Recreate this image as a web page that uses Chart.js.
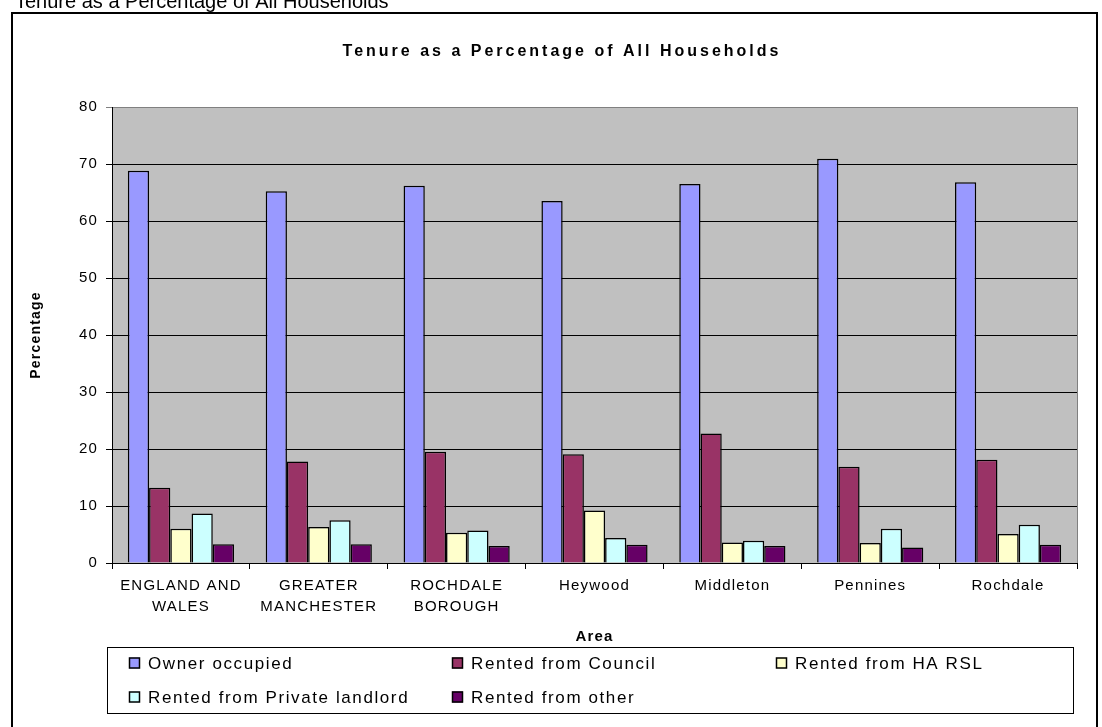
<!DOCTYPE html>
<html>
<head>
<meta charset="utf-8">
<title>Tenure as a Percentage of All Households</title>
<script src="https://cdn.jsdelivr.net/npm/chart.js@4/dist/chart.umd.min.js"></script>
<style>
    html, body { margin: 0; padding: 0; background: #fff; overflow: hidden; }
    #tenureChart { display: block; }
</style>
</head>
<body>
<canvas id="tenureChart" width="1102" height="727"></canvas>
<script>
// ── Data ─────────────────────────────────────────────────────────────────────
const areas = [
    ['ENGLAND AND', 'WALES'],
    ['GREATER', 'MANCHESTER'],
    ['ROCHDALE', 'BOROUGH'],
    'Heywood',
    'Middleton',
    'Pennines',
    'Rochdale'
];
const ownerOccupied   = [68.8, 65.2, 66.2, 63.5, 66.5, 70.9, 66.8];
const rentedCouncil   = [13.2, 17.8, 19.5, 19.1, 22.7, 16.9, 18.1];
const rentedHaRsl     = [6.0, 6.3, 5.3, 9.2, 3.6, 3.5, 5.1];
const rentedPrivate   = [8.7, 7.5, 5.7, 4.4, 3.9, 6.0, 6.7];
const rentedOther     = [3.3, 3.3, 3.0, 3.2, 3.0, 2.7, 3.2];
const yTicks          = [0, 10, 20, 30, 40, 50, 60, 70, 80];

const FONT = 'Arial, "Liberation Sans", sans-serif';

// ── Frame, titles, grey plot background and legend ──────────────────────────
const sheetDecor = {
    id: 'sheetDecor',
    beforeDraw(chart) {
        const { ctx, chartArea: a } = chart;
        ctx.save();
        ctx.fillStyle = '#c0c0c0';
        ctx.fillRect(a.left, a.top, a.right - a.left, a.bottom - a.top);
        ctx.restore();
        // spaced-out lettering for ticks and axis titles
        ctx.letterSpacing = '1.2px';
    },
    afterDraw(chart) {
        const { ctx, chartArea: a } = chart;
        ctx.save();

        // plot area border on the right
        ctx.strokeStyle = '#808080';
        ctx.lineWidth = 1;
        ctx.beginPath();
        ctx.moveTo(a.right + 0.5, a.top);
        ctx.lineTo(a.right + 0.5, a.bottom);
        ctx.stroke();

        // page heading above the frame
        ctx.fillStyle = '#000';
        ctx.letterSpacing = '0px';
        ctx.font = '20px ' + FONT;
        ctx.textAlign = 'left';
        ctx.textBaseline = 'alphabetic';
        ctx.fillText('Tenure as a Percentage of All Households', 15, 8);

        // chart frame
        ctx.strokeStyle = '#000';
        ctx.lineWidth = 2;
        ctx.strokeRect(12, 13, 1085, 740);

        // chart title
        ctx.letterSpacing = '3px';
        ctx.font = 'bold 16px ' + FONT;
        ctx.textAlign = 'center';
        ctx.fillText('Tenure as a Percentage of All Households', 562, 56);

        // legend box
        ctx.lineWidth = 1;
        ctx.strokeStyle = '#000';
        ctx.strokeRect(107.5, 647.5, 966, 66);

        const colX = [129, 452, 776];
        const rowY = [663, 697];
        ctx.letterSpacing = '1.6px';
        ctx.font = '17px ' + FONT;
        ctx.textAlign = 'left';
        ctx.textBaseline = 'middle';
        chart.data.datasets.forEach((ds, i) => {
            const x = colX[i % 3];
            const y = rowY[Math.floor(i / 3)];
            ctx.fillStyle = ds.backgroundColor;
            ctx.fillRect(x, y - 5.5, 11, 11);
            ctx.lineWidth = 1.5;
            ctx.strokeRect(x + 0.5, y - 5, 10, 10);
            ctx.fillStyle = '#000';
            ctx.fillText(ds.label, x + 19, y + 1);
        });
        ctx.restore();
    }
};

// ── Chart ───────────────────────────────────────────────────────────────────
function makeSet(label, data, colour) {
    return {
        label,
        data,
        backgroundColor: colour,
        borderColor: '#000',
        borderWidth: 1.5,
        categoryPercentage: 0.77,
        barPercentage: 1.0
    };
}

new Chart(document.getElementById('tenureChart'), {
    type: 'bar',
    data: {
        labels: areas,
        datasets: [
            makeSet('Owner occupied', ownerOccupied, '#9999ff'),
            makeSet('Rented from Council', rentedCouncil, '#993366'),
            makeSet('Rented from HA RSL', rentedHaRsl, '#ffffcc'),
            makeSet('Rented from Private landlord', rentedPrivate, '#ccffff'),
            makeSet('Rented from other', rentedOther, '#660066')
        ]
    },
    options: {
        responsive: false,
        animation: false,
        devicePixelRatio: 1,
        layout: { padding: { left: 0, right: 25, top: 107, bottom: 0 } },
        plugins: {
            legend: { display: false },
            title: { display: false },
            tooltip: { enabled: false }
        },
        scales: {
            x: {
                grid: {
                    drawOnChartArea: false,
                    drawTicks: true,
                    tickLength: 6,
                    color: '#000'
                },
                border: { color: '#000', width: 1 },
                ticks: {
                    color: '#000',
                    font: { family: FONT, size: 15, lineHeight: 1.4 },
                    padding: 6,
                    maxRotation: 0,
                    autoSkip: false
                },
                title: {
                    display: true,
                    text: 'Area',
                    color: '#000',
                    font: { family: FONT, size: 15, weight: 'bold', lineHeight: 1.2 },
                    padding: { top: 0, bottom: 81 }
                },
                afterFit(scale) { scale.height = 164; }
            },
            y: {
                min: 0,
                max: 80,
                afterBuildTicks(scale) { scale.ticks = yTicks.map(v => ({ value: v })); },
                grid: {
                    color: ctx => (ctx.tick && ctx.tick.value === 80 ? '#808080' : '#000'),
                    tickLength: 6
                },
                border: { color: '#000', width: 1 },
                ticks: {
                    color: '#000',
                    font: { family: FONT, size: 15 },
                    padding: 8
                },
                title: {
                    display: true,
                    text: 'Percentage',
                    color: '#000',
                    font: { family: FONT, size: 14, weight: 'bold', lineHeight: 1.2 },
                    padding: { top: 28, bottom: 0 }
                },
                afterFit(scale) { scale.width = 112; }
            }
        }
    },
    plugins: [sheetDecor]
});
</script>
</body>
</html>
